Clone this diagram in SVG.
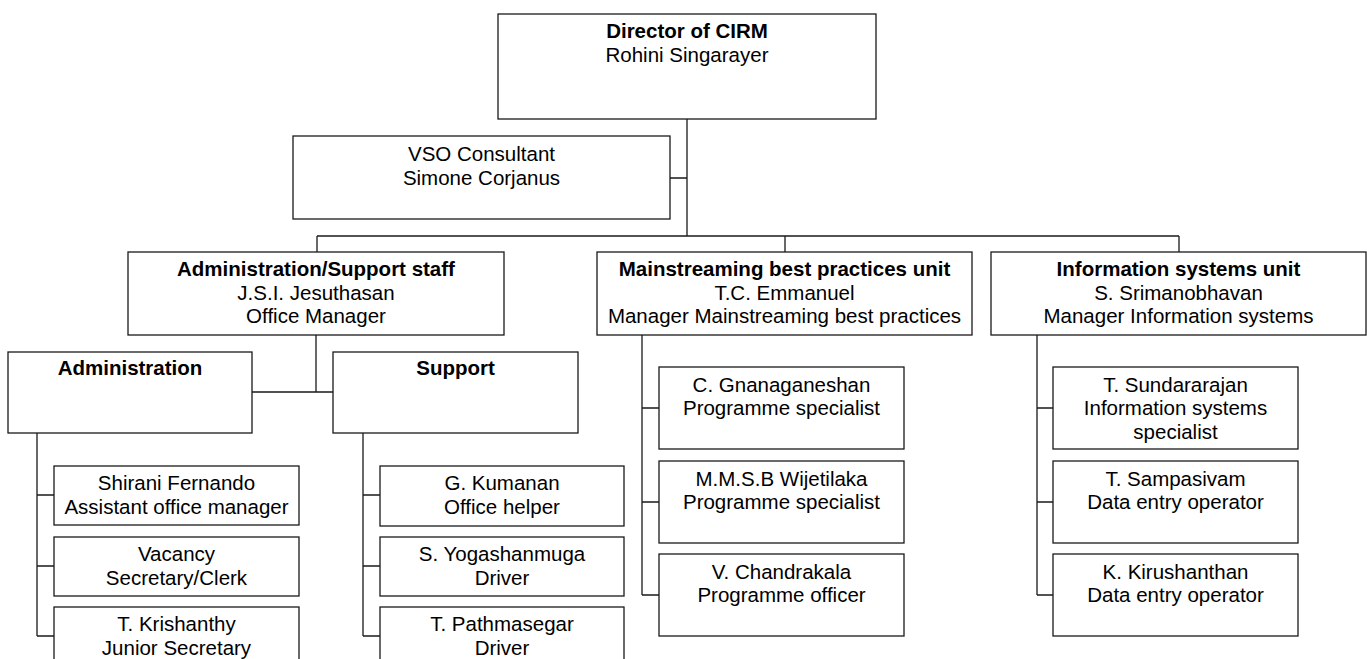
<svg xmlns="http://www.w3.org/2000/svg" width="1367" height="659" viewBox="0 0 1367 659">
<style>
g rect{fill:#fff;stroke:#1a1a1a;stroke-width:1.3}
.c path{fill:none;stroke:#1a1a1a;stroke-width:1.3}
text{font-family:"Liberation Sans",Arial,sans-serif;font-size:20.5px;fill:#000;text-anchor:middle}
.b{font-weight:bold}
</style>
<rect width="1367" height="659" style="fill:#fff;stroke:none"/>
<g class="c" id="connectors">
<path d="M687,119V236M670,178H687M317,236H1179M317,236V252M785,236V252M1179,236V252"/>
<path d="M316,335V392M252,392H333"/>
<path d="M37,433V636M37,495H54M37,566H54M37,636H54"/>
<path d="M363,433V636M363,495H380M363,566H380M363,636H380"/>
<path d="M642,335V595M642,408H659M642,502H659M642,595H659"/>
<path d="M1037,335V595M1037,408H1053M1037,502H1053M1037,595H1053"/>
</g>
<g id="director"><rect x="498" y="14" width="378" height="105"/><text x="687" y="38"><tspan class="b">Director of CIRM</tspan><tspan x="687" dy="23.5">Rohini Singarayer</tspan></text></g>
<g id="vso"><rect x="293" y="136" width="377" height="83"/><text x="481.5" y="161"><tspan>VSO Consultant</tspan><tspan x="481.5" dy="23.5">Simone Corjanus</tspan></text></g>
<g id="adminstaff"><rect x="128" y="252" width="376" height="83"/><text x="316" y="276"><tspan class="b">Administration/Support staff</tspan><tspan x="316" dy="23.5">J.S.I. Jesuthasan</tspan><tspan x="316" dy="23.5">Office Manager</tspan></text></g>
<g id="mainstream"><rect x="597" y="252" width="375" height="83"/><text x="784.5" y="276"><tspan class="b">Mainstreaming best practices unit</tspan><tspan x="784.5" dy="23.5">T.C. Emmanuel</tspan><tspan x="784.5" dy="23.5">Manager Mainstreaming best practices</tspan></text></g>
<g id="infosys"><rect x="991" y="252" width="375" height="83"/><text x="1178.5" y="276"><tspan class="b">Information systems unit</tspan><tspan x="1178.5" dy="23.5">S. Srimanobhavan</tspan><tspan x="1178.5" dy="23.5">Manager Information systems</tspan></text></g>
<g id="administration"><rect x="8" y="352" width="244" height="81"/><text x="130" y="375" class="b">Administration</text></g>
<g id="support"><rect x="333" y="352" width="245" height="81"/><text x="455.5" y="375" class="b">Support</text></g>
<g id="shirani"><rect x="54" y="466" width="245" height="59"/><text x="176.5" y="490"><tspan>Shirani Fernando</tspan><tspan x="176.5" dy="23.5">Assistant office manager</tspan></text></g>
<g id="vacancy"><rect x="54" y="537" width="245" height="59"/><text x="176.5" y="561"><tspan>Vacancy</tspan><tspan x="176.5" dy="23.5">Secretary/Clerk</tspan></text></g>
<g id="krishanthy"><rect x="54" y="607" width="245" height="70"/><text x="176.5" y="631"><tspan>T. Krishanthy</tspan><tspan x="176.5" dy="23.5">Junior Secretary</tspan></text></g>
<g id="kumanan"><rect x="380" y="466" width="244" height="60"/><text x="502" y="490"><tspan>G. Kumanan</tspan><tspan x="502" dy="23.5">Office helper</tspan></text></g>
<g id="yogashanmuga"><rect x="380" y="537" width="244" height="59"/><text x="502" y="561"><tspan>S. Yogashanmuga</tspan><tspan x="502" dy="23.5">Driver</tspan></text></g>
<g id="pathmasegar"><rect x="380" y="607" width="244" height="70"/><text x="502" y="631"><tspan>T. Pathmasegar</tspan><tspan x="502" dy="23.5">Driver</tspan></text></g>
<g id="gnanaganeshan"><rect x="659" y="367" width="245" height="82"/><text x="781.5" y="391.5"><tspan>C. Gnanaganeshan</tspan><tspan x="781.5" dy="23.5">Programme specialist</tspan></text></g>
<g id="wijetilaka"><rect x="659" y="461" width="245" height="82"/><text x="781.5" y="485.5"><tspan>M.M.S.B Wijetilaka</tspan><tspan x="781.5" dy="23.5">Programme specialist</tspan></text></g>
<g id="chandrakala"><rect x="659" y="554" width="245" height="82"/><text x="781.5" y="578.5"><tspan>V. Chandrakala</tspan><tspan x="781.5" dy="23.5">Programme officer</tspan></text></g>
<g id="sundararajan"><rect x="1053" y="367" width="245" height="82"/><text x="1175.5" y="391.5"><tspan>T. Sundararajan</tspan><tspan x="1175.5" dy="23.5">Information systems</tspan><tspan x="1175.5" dy="23.5">specialist</tspan></text></g>
<g id="sampasivam"><rect x="1053" y="461" width="245" height="82"/><text x="1175.5" y="485.5"><tspan>T. Sampasivam</tspan><tspan x="1175.5" dy="23.5">Data entry operator</tspan></text></g>
<g id="kirushanthan"><rect x="1053" y="554" width="245" height="82"/><text x="1175.5" y="578.5"><tspan>K. Kirushanthan</tspan><tspan x="1175.5" dy="23.5">Data entry operator</tspan></text></g>
</svg>
